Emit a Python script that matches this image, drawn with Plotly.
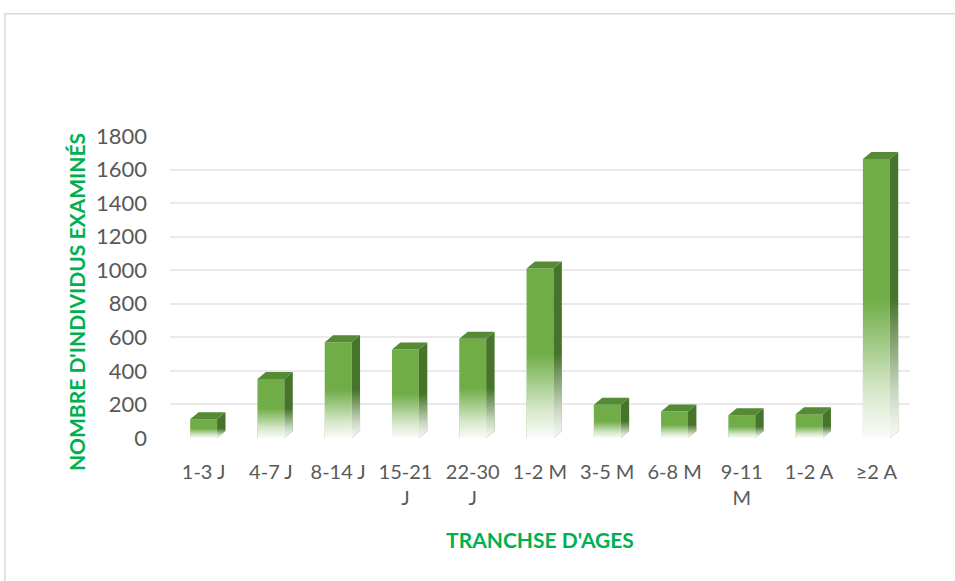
import plotly.graph_objects as go

# Age groups and number of examined individuals
categories = ["1-3 J", "4-7 J", "8-14 J", "15-21<br>J", "22-30<br>J", "1-2 M",
              "3-5 M", "6-8 M", "9-11<br>M", "1-2 A", "≥2 A"]
counts = [112, 351, 571, 527, 591, 1010, 198, 158, 136, 142, 1663]
y_ticks = [0, 200, 400, 600, 800, 1000, 1200, 1400, 1600, 1800]

FRONT = "#70AD47"
TOP = "#548B34"
SIDE = "#46742A"
BAR_W = 0.4
DX = 0.125   # depth offset, x units
DY = 42      # depth offset, y units
FADE = 0.5   # share of the bar that fades to white

pos = list(range(len(categories)))

fig = go.Figure()

# front faces
fig.add_trace(go.Bar(
    x=pos, y=counts, width=BAR_W,
    marker=dict(color=FRONT, line=dict(width=0)),
    hovertemplate="%{y}<extra></extra>",
))

# side and top faces (one polygon each per bar, joined with None gaps)
sx, sy, tx, ty = [], [], [], []
for p, v in zip(pos, counts):
    x0, x1 = p - BAR_W / 2, p + BAR_W / 2
    sx += [x1, x1 + DX, x1 + DX, x1, x1, None]
    sy += [0, DY, v + DY, v, 0, None]
    tx += [x0, x1, x1 + DX, x0 + DX, x0, None]
    ty += [v, v, v + DY, v + DY, v, None]

fig.add_trace(go.Scatter(x=sx, y=sy, mode="lines", fill="toself",
                         fillcolor=SIDE, line=dict(width=0),
                         hoverinfo="skip"))
fig.add_trace(go.Scatter(x=tx, y=ty, mode="lines", fill="toself",
                         fillcolor=TOP, line=dict(width=0),
                         hoverinfo="skip"))

# white fade over the lower part of each bar
for p, v in zip(pos, counts):
    x0, x1 = p - BAR_W / 2, p + BAR_W / 2
    h = v * FADE
    fig.add_trace(go.Scatter(
        x=[x0, x1, x1 + DX, x1 + DX, x1, x0, x0],
        y=[0, 0, DY, h + DY, h, h, 0],
        mode="lines", fill="toself", line=dict(width=0),
        fillgradient=dict(
            type="vertical", start=0, stop=h,
            colorscale=[[0, "rgba(255,255,255,0.97)"],
                        [0.35, "rgba(255,255,255,0.7)"],
                        [1, "rgba(255,255,255,0)"]],
        ),
        hoverinfo="skip",
    ))

green = "#00B050"

fig.update_layout(
    width=955, height=581,
    margin=dict(l=170, r=45, t=136, b=143),
    paper_bgcolor="white", plot_bgcolor="white",
    showlegend=False,
    font=dict(family="Lato", color="#595959", size=20),
    shapes=[dict(type="rect", xref="paper", yref="paper",
                 x0=-0.223, x1=1.2, y0=-0.7, y1=1.405,
                 line=dict(color="#D9D9D9", width=1.5), layer="below")],
    # y axis title placed by hand: it sits a bit below the plot centre
    annotations=[dict(text="<b>NOMBRE D'INDIVIDUS EXAMINÉS</b>",
                      xref="paper", yref="paper", x=-0.127, y=0.45,
                      xanchor="center", yanchor="middle", textangle=-90,
                      showarrow=False, font=dict(size=21, color=green))],
)

fig.update_xaxes(
    range=[-0.5, 10.5],
    tickvals=pos, ticktext=categories,
    showgrid=False, zeroline=False, showline=False, ticks="",
    ticklabelstandoff=20,
    tickfont=dict(size=20, color="#595959"),
    title=dict(text="<b>TRANCHSE D'AGES</b>",
               font=dict(size=21, color=green), standoff=25),
)

fig.update_yaxes(
    range=[0, 1800],
    tickvals=y_ticks,
    showgrid=True, gridcolor="#EAEAEA", gridwidth=2,
    zeroline=False, showline=False, ticks="",
    ticklabelstandoff=22,
    tickfont=dict(size=22, color="#595959"),
)

# page body has a default 8px margin; drop it so the chart sits at 0,0
fig.write_html("out.html", config={"displayModeBar": False},
               post_script="document.body.style.margin='0';")
